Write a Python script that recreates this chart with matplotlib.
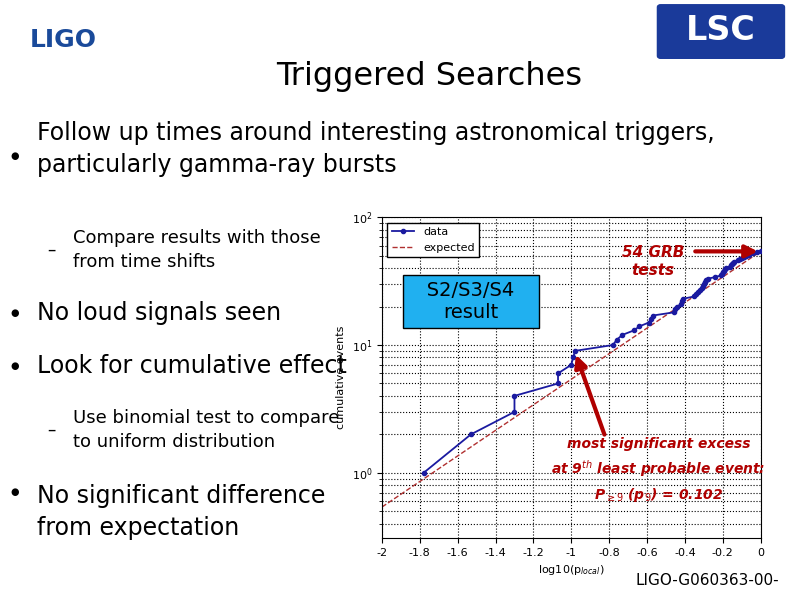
import matplotlib
matplotlib.use("Agg")
import matplotlib.pyplot as plt
import numpy as np
from matplotlib.patches import FancyBboxPatch

# data: log10(p_local) for each cumulative count
log_p = [-1.78, -1.53, -1.30, -1.30, -1.07, -1.07, -1.00, -0.99, -0.98, -0.78,
         -0.76, -0.73, -0.67, -0.64, -0.59, -0.58, -0.57, -0.46, -0.45, -0.44,
         -0.42, -0.415, -0.41, -0.35, -0.34, -0.33, -0.32, -0.31, -0.305, -0.30,
         -0.295, -0.29, -0.28, -0.24, -0.21, -0.205, -0.20, -0.195, -0.19, -0.185,
         -0.16, -0.155, -0.15, -0.145, -0.14, -0.12, -0.11, -0.10, -0.09, -0.08,
         -0.06, -0.04, -0.02, 0.0]
counts = list(range(1, len(log_p) + 1))
n_grb = 54
x_tick_labels = ["-2", "-1.8", "-1.6", "-1.4", "-1.2", "-1", "-0.8", "-0.6", "-0.4", "-0.2", "0"]
x_ticks = [-2, -1.8, -1.6, -1.4, -1.2, -1, -0.8, -0.6, -0.4, -0.2, 0]

fig = plt.figure(figsize=(7.94, 5.95), dpi=100)
fig.patch.set_facecolor("white")

# slide text
fig.text(0.038, 0.933, "LIGO", fontsize=18, fontweight="bold", color="#1a4a9a", va="center")
lsc = FancyBboxPatch((0.832, 0.906), 0.152, 0.082, boxstyle="round,pad=0.004",
                     transform=fig.transFigure, facecolor="#1a3a9a", edgecolor="#1a3a9a")
fig.patches.append(lsc)
fig.text(0.908, 0.948, "LSC", fontsize=24, fontweight="bold", color="white", ha="center", va="center")
fig.text(0.54, 0.872, "Triggered Searches", fontsize=23, ha="center", va="center")
fs = 17
fig.text(0.013, 0.738, "\u25cf", fontsize=7, va="center")
fig.text(0.047, 0.75, "Follow up times around interesting astronomical triggers,\nparticularly gamma-ray bursts",
         fontsize=fs, va="center", linespacing=1.4)
fig.text(0.06, 0.58, "\u2013", fontsize=12, va="center")
fig.text(0.092, 0.58, "Compare results with those\nfrom time shifts", fontsize=13, va="center", linespacing=1.4)
fig.text(0.013, 0.474, "\u25cf", fontsize=7, va="center")
fig.text(0.047, 0.474, "No loud signals seen", fontsize=fs, va="center")
fig.text(0.013, 0.385, "\u25cf", fontsize=7, va="center")
fig.text(0.047, 0.385, "Look for cumulative effect", fontsize=fs, va="center", zorder=10)
fig.text(0.06, 0.277, "\u2013", fontsize=12, va="center")
fig.text(0.092, 0.277, "Use binomial test to compare\nto uniform distribution", fontsize=13, va="center",
         linespacing=1.4, zorder=10)
fig.text(0.013, 0.173, "\u25cf", fontsize=7, va="center")
fig.text(0.047, 0.14, "No significant difference\nfrom expectation", fontsize=fs, va="center", linespacing=1.4)

ax = fig.add_axes([0.481, 0.096, 0.477, 0.539])
xs = np.linspace(-2, 0, 100)
ax.plot(xs, n_grb * 10 ** xs, "--", color="#b03030", lw=1, label="expected")
ax.plot(log_p, counts, "-", color="#1a1aa0", marker=".", ms=6, lw=1.3, label="data", zorder=3)
ax.set_yscale("log")
ax.set_xlim(-2, 0)
ax.set_ylim(0.31, 100)
ax.set_xticks(x_ticks)
ax.set_xticklabels(x_tick_labels, fontsize=8)
ax.tick_params(labelsize=8)
ax.grid(True, which="both", linestyle=":", color="black", lw=0.8)
ax.set_xlabel(r"log10(p$_{local}$)", fontsize=8)
ax.set_ylabel("cumulative events", fontsize=8)
h, l = ax.get_legend_handles_labels()
ax.legend(h[::-1], l[::-1], loc="upper left", fontsize=8, fancybox=False, edgecolor="black",
          framealpha=1)
ax.text(-1.53, 22, "   S2/S3/S4   \nresult", fontsize=14, ha="center", va="center",
        bbox=dict(boxstyle="square,pad=0.3", facecolor="#20b0f0", edgecolor="black"))
ax.annotate("", xy=(0, 54), xytext=(-0.36, 54),
            arrowprops=dict(arrowstyle="-|>", color="#b00000", lw=3, mutation_scale=18))
ax.text(-0.57, 45, "54 GRB\ntests", fontsize=11, color="#b00000", fontweight="bold",
        fontstyle="italic", ha="center", va="center")
ax.annotate("", xy=(-0.98, 8.8), xytext=(-0.82, 1.9),
            arrowprops=dict(arrowstyle="-|>", color="#b00000", lw=3, mutation_scale=18))
ax.text(-0.54, 1.05, "most significant excess\nat 9$^{th}$ least probable event:\n"
        r"P$_{\geq 9}$ (p$_9$) = 0.102",
        fontsize=10, color="#b00000", fontweight="bold", fontstyle="italic",
        ha="center", va="center", linespacing=1.5)

fig.text(0.8, 0.025, "LIGO-G060363-00-", fontsize=11, va="center")
fig.savefig("out.png", dpi=100)
